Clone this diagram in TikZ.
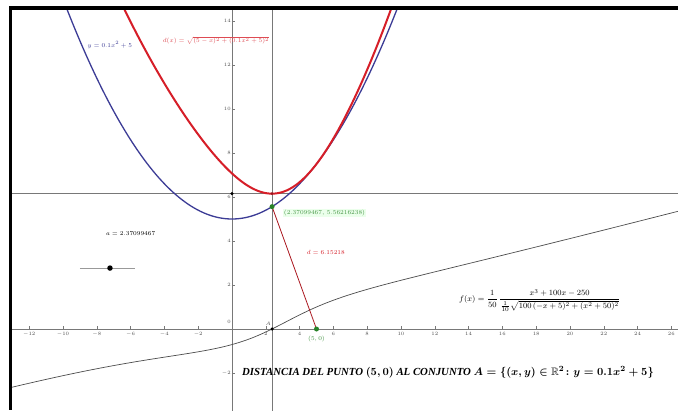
\documentclass[tikz,border=0pt]{standalone}
\usepackage{amsmath,amssymb}
\usepackage{fontspec}
\setmainfont{Liberation Serif}
\definecolor{curvered}{RGB}{214,30,40}
\definecolor{curveblue}{RGB}{60,60,150}
\definecolor{ptgreen}{RGB}{40,130,40}
\definecolor{txtgreen}{RGB}{70,150,70}
\definecolor{axisgray}{RGB}{120,120,120}
\tikzset{
  axisline/.style={draw=axisgray, line width=0.8pt},
  ticklab/.style={font=\fontsize{5}{6}\selectfont, text=black!70, inner sep=1pt},
  dot/.style={circle, inner sep=0pt, minimum size=5pt},
}
\begin{document}
\begin{tikzpicture}[x=16.9pt,y=22pt]
\pgfmathsetmacro{\av}{2.371}
\pgfmathsetmacro{\dm}{6.152}
\pgfmathsetmacro{\ya}{0.1*\av*\av+5}
\useasboundingbox (-13.728,-3.682) rectangle (26.391,14.955);
\fill[white] (-13.728,-3.682) rectangle (26.391,14.955);
\begin{scope}
\clip (-13.018,-3.682) rectangle (26.391,14.5);
% axes and guide lines
\draw[axisline] (-14,0) -- (27,0);
\draw[axisline] (0,-4) -- (0,15);
\draw[axisline] (\av,-4) -- (\av,15);
\draw[axisline] (-14,\dm) -- (27,\dm);
% ticks and labels
\foreach \t in {-12,-10,-8,-6,-4,-2,2,4,6,8,10,12,14,16,18,20,22,24,26} {
  \draw[axisgray, line width=0.4pt] (\t,0) -- (\t,0.12);
  \node[ticklab, below] (xt\t) at (\t,-0.08) {$\t$};
}
\foreach \t in {-2,2,4,6,8,10,12,14} {
  \draw[axisgray, line width=0.4pt] (0,\t) -- (0.15,\t);
  \node[ticklab, left] (yt\t) at (0,\t) {$\t$};
}
\node[ticklab, anchor=north east] (orig) at (0,0.45) {$0$};
% gray curve f
\draw[black!70, line width=0.7pt] plot[domain=-13.2:26.5, samples=160, smooth]
  (\x, {(0.02*\x*\x*\x + 2*\x - 5)/sqrt((\x-5)^2 + (0.1*\x*\x+5)^2)});
% blue parabola
\draw[curveblue, line width=1.3pt] plot[domain=-10.5:10.5, samples=120, smooth]
  (\x, {0.1*\x*\x+5});
% red distance function
\draw[curvered, line width=2pt] plot[domain=-7.5:10.5, samples=140, smooth]
  (\x, {sqrt((\x-5)^2 + (0.1*\x*\x+5)^2)});
% segment from (5,0) to point of A
\draw[curvered!80!black, line width=0.8pt] (5,0) -- (\av,\ya);
\end{scope}
% points
\node[dot, fill=ptgreen] (P) at (5,0) {};
\node[dot, fill=ptgreen] (Q) at (\av,\ya) {};
\node[dot, fill=black, minimum size=3.5pt] (Z) at (\av,0) {};
\node[dot, fill=black, minimum size=3.5pt] (M) at (0,\dm) {};
\node[dot, fill=curvered!70!black, minimum size=3pt] (R) at (\av,\dm) {};
\node[font=\fontsize{5}{6}\selectfont, text=black!70, anchor=south east, inner sep=1pt] (Zl) at (\av,0.1) {$A$};
% labels
\node[font=\fontsize{6}{7}\selectfont, text=txtgreen, below] (Pl) at (5,-0.15) {$(5,0)$};
\node[font=\fontsize{6}{7}\selectfont, text=txtgreen, fill=green!8, anchor=west, inner sep=1pt] (Ql) at (3.0,5.27) {$(2.37099467,\,5.56216238)$};
\node[font=\fontsize{6}{7}\selectfont, text=curvered] (dl) at (5.55,3.5) {$d=6.15218$};
\node[font=\fontsize{6}{7}\selectfont, text=curveblue, anchor=west] (bl) at (-8.75,12.9) {$y=0.1x^2+5$};
\node[font=\fontsize{6}{7}\selectfont, text=curvered!80, anchor=west] (rl) at (-4.3,13.1) {$d(x)=\sqrt{(5-x)^2+(0.1x^2+5)^2}$};
% slider
\draw[black!40, line width=0.6pt] (-9.0,2.77) -- (-5.74,2.77);
\node[dot, fill=black, minimum size=5.5pt] (S) at (-7.22,2.77) {};
\node[font=\fontsize{6}{7}\selectfont] (Sl) at (-6.0,4.36) {$a=2.37099467$};
% f(x) formula
\node[font=\fontsize{8.2}{9}\selectfont] (fl) at (18.2,1.3)
  {$f(x)=\dfrac{1}{50}\,\dfrac{x^3+100x-250}{\frac{1}{10}\sqrt{100\,(-x+5)^2+(x^2+50)^2}}$};
% title
\node[font=\fontsize{10.8}{12}\selectfont\bfseries\itshape\boldmath] (title) at (12.78,-1.95)
  {DISTANCIA DEL PUNTO $(5,0)$ AL CONJUNTO $A=\{(x,y)\in\mathbb{R}^2 \colon y=0.1x^2+5\}$};
% black frame (top and left)
\fill[black] (-13.195,14.5) rectangle (26.391,14.68);
\fill[black] (-13.195,-3.682) rectangle (-13.018,14.68);
\end{tikzpicture}
\end{document}
